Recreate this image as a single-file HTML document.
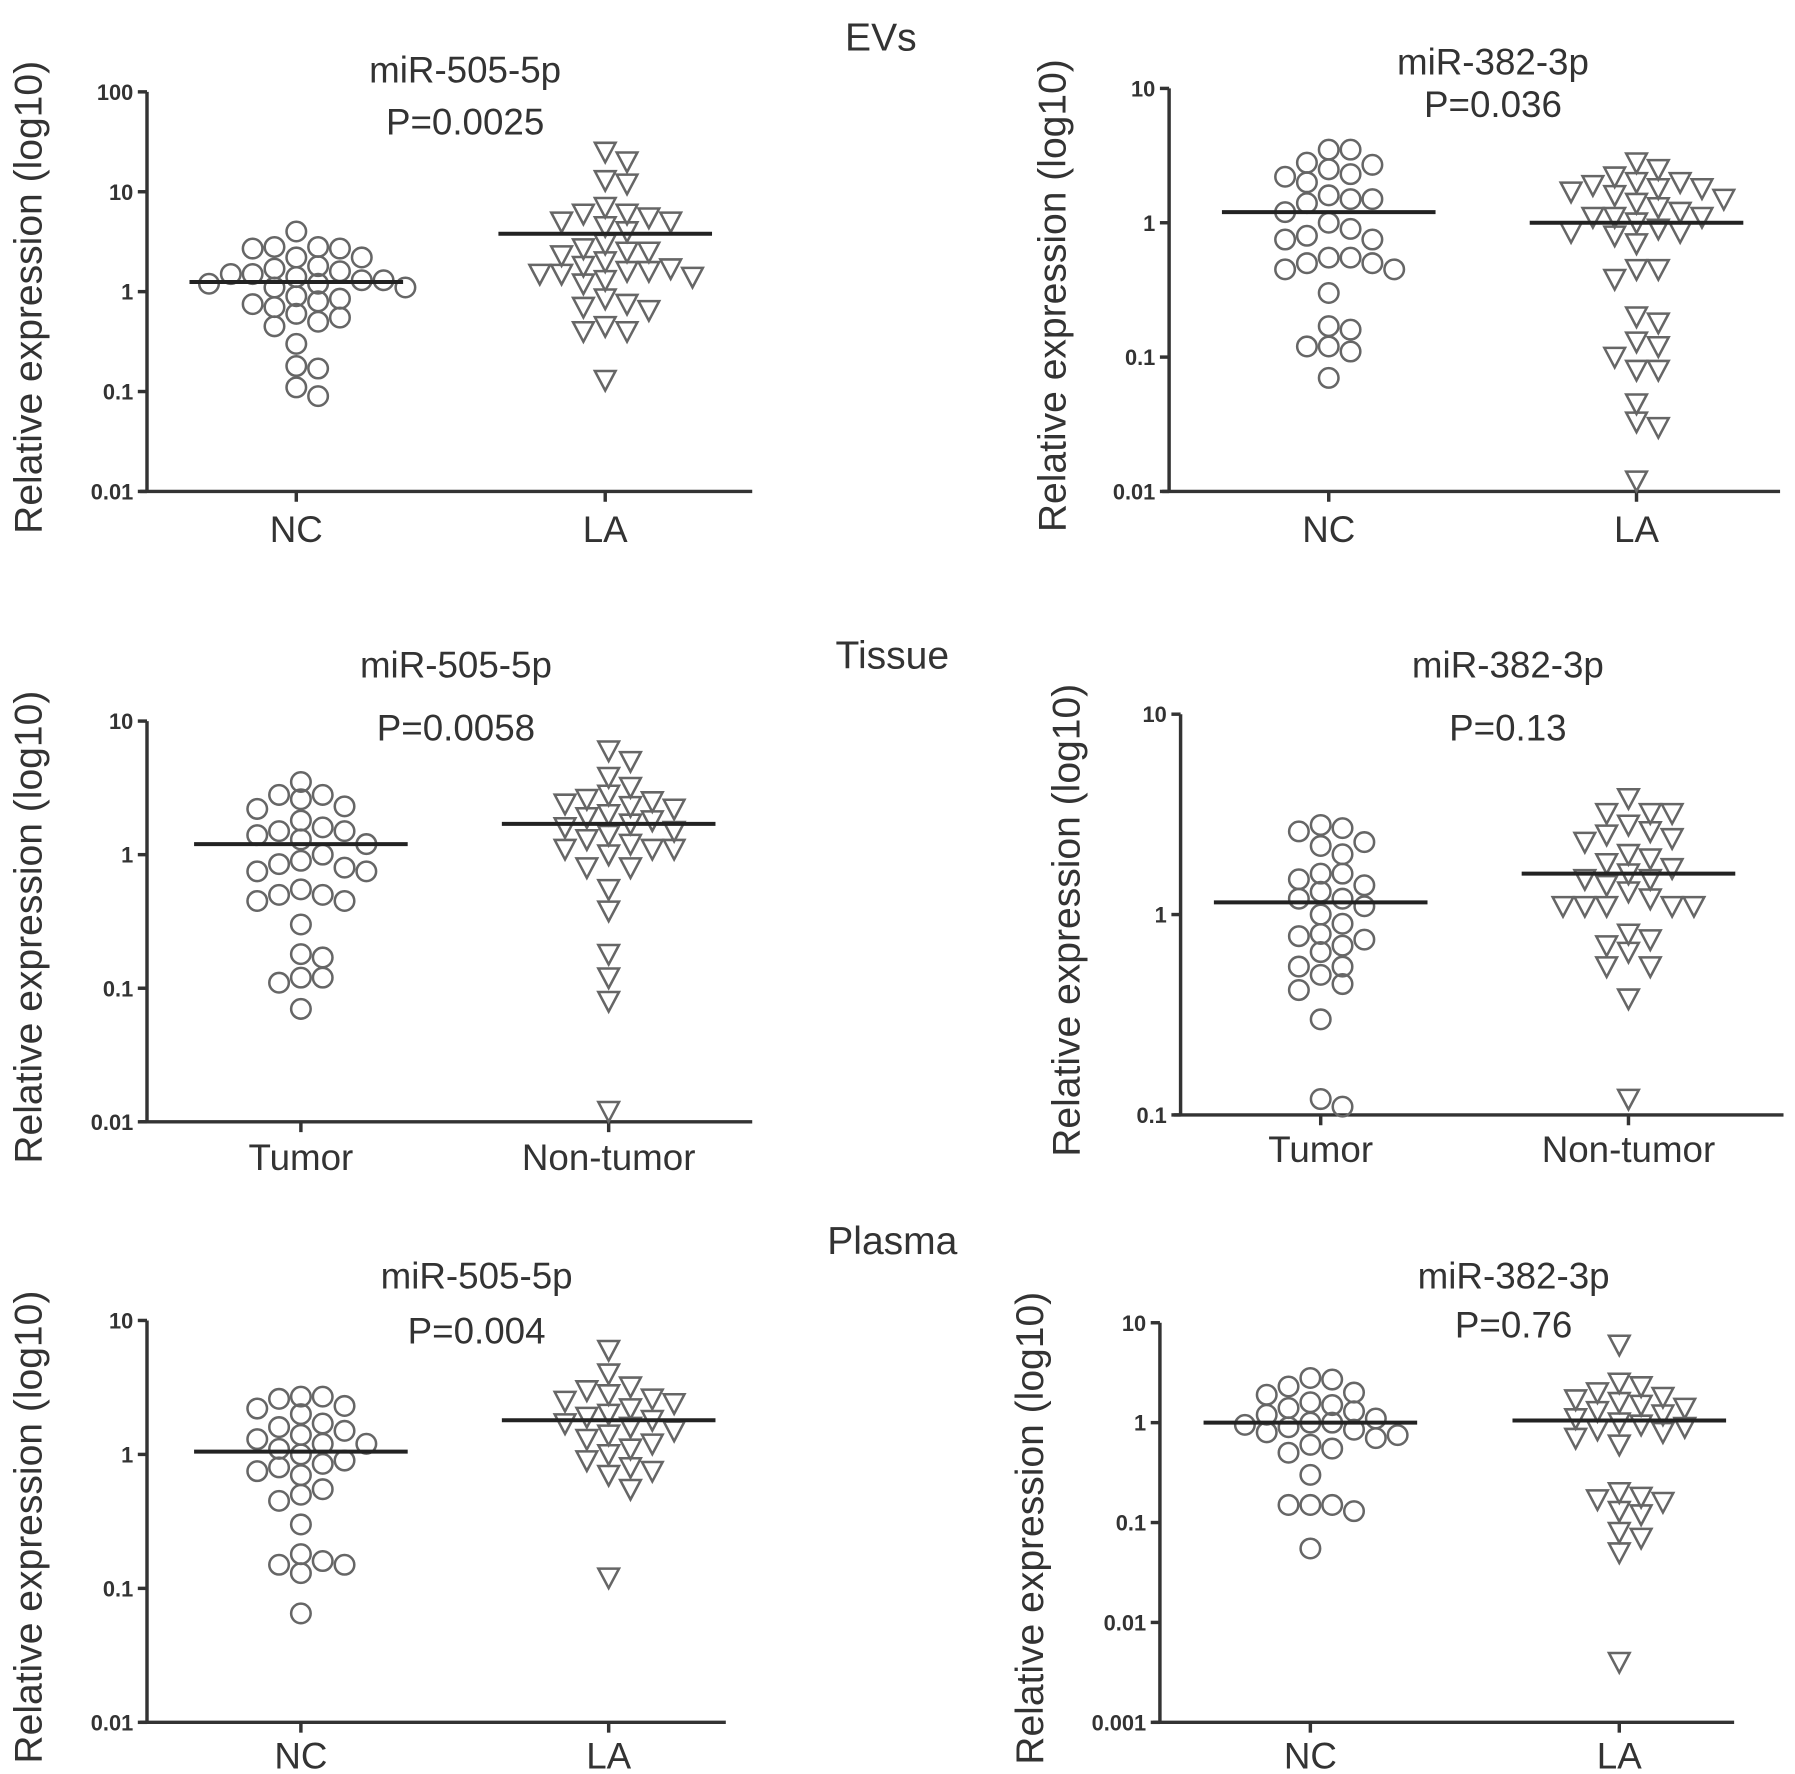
<!DOCTYPE html>
<html><head><meta charset="utf-8"><style>
html,body{margin:0;padding:0;background:#fff;}
svg{display:block;}
text{font-family:"Liberation Sans",sans-serif;fill:#333;}
</style></head><body>
<svg id="fig" width="1795" height="1774" viewBox="0 0 1563 1545" preserveAspectRatio="none" xmlns="http://www.w3.org/2000/svg">
<text x="767" y="44" font-size="34" text-anchor="middle">EVs</text>
<text x="777" y="582" font-size="34" text-anchor="middle">Tissue</text>
<text x="777" y="1092" font-size="34" text-anchor="middle">Plasma</text>
</svg>
<script>
const panelTitles=["miR-505-5p","miR-382-3p","miR-505-5p","miR-382-3p","miR-505-5p","miR-382-3p"];
const pValues=["P=0.0025","P=0.036","P=0.0058","P=0.13","P=0.004","P=0.76"];
const groupLabels=[["NC","LA"],["NC","LA"],["Tumor","Non-tumor"],["Tumor","Non-tumor"],["NC","LA"],["NC","LA"]];
const tickLabelsA=["100","10","1","0.1","0.01"];
const tickLabelsB=["10","1","0.1","0.01"];
const tickLabelsD=["10","1","0.1"];
const tickLabelsF=["10","1","0.1","0.01","0.001"];
const aNC=[4,2.8,2.8,2.7,2.7,2.2,2.2,1.8,1.7,1.6,1.5,1.5,1.4,1.3,1.3,1.2,1.2,1.1,1.1,0.9,0.85,0.8,0.75,0.7,0.6,0.55,0.5,0.45,0.3,0.17,0.18,0.11,0.09];
const aLA=[25,20,13,12,7,6,6,5.5,5,5,4.5,4,3,2.7,2.5,2.5,2.3,2,1.8,1.7,1.6,1.6,1.5,1.5,1.4,1.3,1.2,0.85,0.75,0.7,0.65,0.45,0.4,0.4,0.13];
const bNC=[3.5,3.5,2.8,2.7,2.5,2.3,2.2,2,1.6,1.5,1.5,1.4,1.2,1,0.9,0.8,0.75,0.75,0.55,0.55,0.5,0.5,0.45,0.45,0.3,0.17,0.16,0.12,0.12,0.11,0.07];
const bLA=[2.8,2.5,2.2,2,2,1.9,1.8,1.8,1.7,1.6,1.5,1.4,1.3,1.2,1.1,1.1,1.1,1,0.9,0.85,0.85,0.8,0.7,0.45,0.45,0.38,0.2,0.18,0.13,0.12,0.1,0.08,0.08,0.045,0.033,0.03,0.012];
const cT=[3.5,2.8,2.8,2.6,2.3,2.2,1.8,1.6,1.5,1.5,1.4,1.3,1.2,1,0.9,0.85,0.8,0.75,0.75,0.55,0.5,0.5,0.45,0.45,0.3,0.18,0.17,0.12,0.12,0.11,0.07];
const cN=[6,5,3.8,3.2,2.8,2.6,2.5,2.4,2.3,2.2,2,1.9,1.8,1.7,1.6,1.5,1.4,1.3,1.2,1.1,1.1,1.1,1,0.8,0.8,0.55,0.38,0.18,0.12,0.08,0.012];
const dT=[2.8,2.7,2.6,2.3,2.2,2,1.6,1.6,1.5,1.4,1.3,1.2,1.2,1.1,1,0.9,0.8,0.78,0.75,0.7,0.65,0.55,0.55,0.5,0.45,0.42,0.3,0.12,0.11];
const dN=[3.8,3.2,3.2,3.2,2.8,2.6,2.5,2.4,2.3,2,1.9,1.8,1.7,1.6,1.5,1.5,1.4,1.3,1.2,1.1,1.1,1.1,1.1,1.1,0.8,0.75,0.7,0.65,0.55,0.55,0.38,0.12];
const eNC=[2.7,2.7,2.6,2.3,2.2,2,1.7,1.6,1.5,1.4,1.3,1.2,1.2,1.1,1,0.9,0.85,0.8,0.75,0.7,0.55,0.5,0.45,0.3,0.18,0.16,0.15,0.15,0.13,0.065];
const eLA=[6,4,3.2,3,2.8,2.6,2.5,2.4,2.2,2,1.9,1.8,1.7,1.6,1.5,1.4,1.3,1.2,1.1,1,0.9,0.8,0.75,0.7,0.55,0.12];
const fNC=[2.8,2.7,2.3,2,1.9,1.6,1.5,1.4,1.3,1.2,1.1,1,1,0.95,0.9,0.85,0.8,0.75,0.7,0.6,0.55,0.5,0.3,0.15,0.15,0.15,0.13,0.055];
const fLA=[6,2.5,2.3,2,1.8,1.7,1.6,1.5,1.4,1.3,1.2,1.1,1,0.95,0.9,0.85,0.8,0.7,0.6,0.2,0.18,0.17,0.16,0.13,0.12,0.08,0.07,0.05,0.004];
const meanValues=[[1.25,3.8],[1.2,1.0],[1.2,1.7],[1.15,1.6],[1.05,1.8],[1.0,1.05]];

const NS="http://www.w3.org/2000/svg";
const svg=document.getElementById('fig');
function mk(tag,attrs,parent){const e=document.createElementNS(NS,tag);for(const k in attrs)e.setAttribute(k,attrs[k]);(parent||svg).appendChild(e);return e;}

const layouts=[
 {ax:128,yt:80,yb:428,eTop:2,eBot:-2,xe:655,gx:[258,527],tx:405,ty1:72,ty2:117,lx:36,lab:[472],ticks:tickLabelsA,data:[aNC,aLA]},
 {ax:1018,yt:77,yb:428,eTop:1,eBot:-2,xe:1550,gx:[1157,1425],tx:1300,ty1:65,ty2:102,lx:928,lab:[472],ticks:tickLabelsB,data:[bNC,bLA]},
 {ax:128,yt:628,yb:977,eTop:1,eBot:-2,xe:655,gx:[262,530],tx:397,ty1:590,ty2:645,lx:36,lab:[1019],ticks:tickLabelsB,data:[cT,cN]},
 {ax:1028,yt:622,yb:971,eTop:1,eBot:-1,xe:1553,gx:[1150,1418],tx:1313,ty1:590,ty2:645,lx:940,lab:[1012],ticks:tickLabelsD,data:[dT,dN]},
 {ax:128,yt:1150,yb:1500,eTop:1,eBot:-2,xe:632,gx:[262,530],tx:415,ty1:1122,ty2:1170,lx:36,lab:[1540],ticks:tickLabelsB,data:[eNC,eLA]},
 {ax:1010,yt:1152,yb:1500,eTop:1,eBot:-3,xe:1510,gx:[1141,1410],tx:1318,ty1:1122,ty2:1165,lx:908,lab:[1540],ticks:tickLabelsF,data:[fNC,fLA]}
];

layouts.forEach((L,pi)=>{
  const g=mk('g',{});
  
  
  const yScale=v=>L.yb-(Math.log10(v)-L.eBot)/(L.eTop-L.eBot)*(L.yb-L.yt);
  const ya=mk('line',{x1:L.ax,y1:L.yt,x2:L.ax,y2:L.yb,stroke:'#333','stroke-width':3},g);
  
  
  const xa=mk('line',{x1:L.ax-6,y1:L.yb,x2:L.xe,y2:L.yb,stroke:'#333','stroke-width':3},g);
  
  
  L.ticks.forEach((t,i)=>{
    const v=Math.pow(10,L.eTop-i);const y=yScale(v);
    mk('line',{x1:L.ax-8,y1:y,x2:L.ax,y2:y,stroke:'#333','stroke-width':3},g);
    const tl=mk('text',{x:L.ax-12,y:y+7,'font-size':19,'font-weight':'bold','text-anchor':'end'},g);
    tl.textContent=t;
    
    
  });
  const cy=(L.yt+L.yb)/2+5;
  const yt=mk('text',{x:L.lx,y:cy,'font-size':34,'text-anchor':'middle',transform:`rotate(-90 ${L.lx} ${cy})`},g);
  yt.textContent='Relative expression (log10)';
  
  
  const t1=mk('text',{x:L.tx,y:L.ty1,'font-size':32,'text-anchor':'middle'},g);
  t1.textContent=panelTitles[pi];
  
  
  const t2=mk('text',{x:L.tx,y:L.ty2,'font-size':32,'text-anchor':'middle'},g);
  t2.textContent=pValues[pi];
  
  
  L.gx.forEach((cx,gi)=>{
    mk('line',{x1:cx,y1:L.yb,x2:cx,y2:L.yb+9,stroke:'#333','stroke-width':3},g);
    const xl=mk('text',{x:cx,y:L.lab[0],'font-size':32,'text-anchor':'middle'},g);
    xl.textContent=groupLabels[pi][gi];
    
    
    const vals=L.data[gi].slice().sort((a,b)=>b-a);
    const placed=[];const d=19,minD=15,maxOff=5;
    vals.forEach(v=>{
      const y=yScale(v);let best=0;
      for(let k=0;k<=2*maxOff;k++){
        const off=(k%2?1:-1)*Math.ceil(k/2)*d;
        if(placed.every(p=>Math.hypot(p.x-off,p.y-y)>=minD)){best=off;break;}
        if(k===2*maxOff)best=((placed.length%2)?1:-1)*d*0.5;
      }
      placed.push({x:best,y:y});
      let m;
      if(gi===0){
        m=mk('circle',{cx:cx+best,cy:y,r:8.5,fill:'none',stroke:'#666','stroke-width':2.2},g);
        
      }else{
        const x=cx+best;
        m=mk('polygon',{points:`${x-9},${y-8} ${x+9},${y-8} ${x},${y+9}`,fill:'none',stroke:'#666','stroke-width':2.2},g);
        
      }
      
    });
    const my=yScale(meanValues[pi][gi]);
    const ml=mk('line',{x1:cx-93,y1:my,x2:cx+93,y2:my,stroke:'#222','stroke-width':3.5},g);
    
    
  });
});
</script>
</body></html>
